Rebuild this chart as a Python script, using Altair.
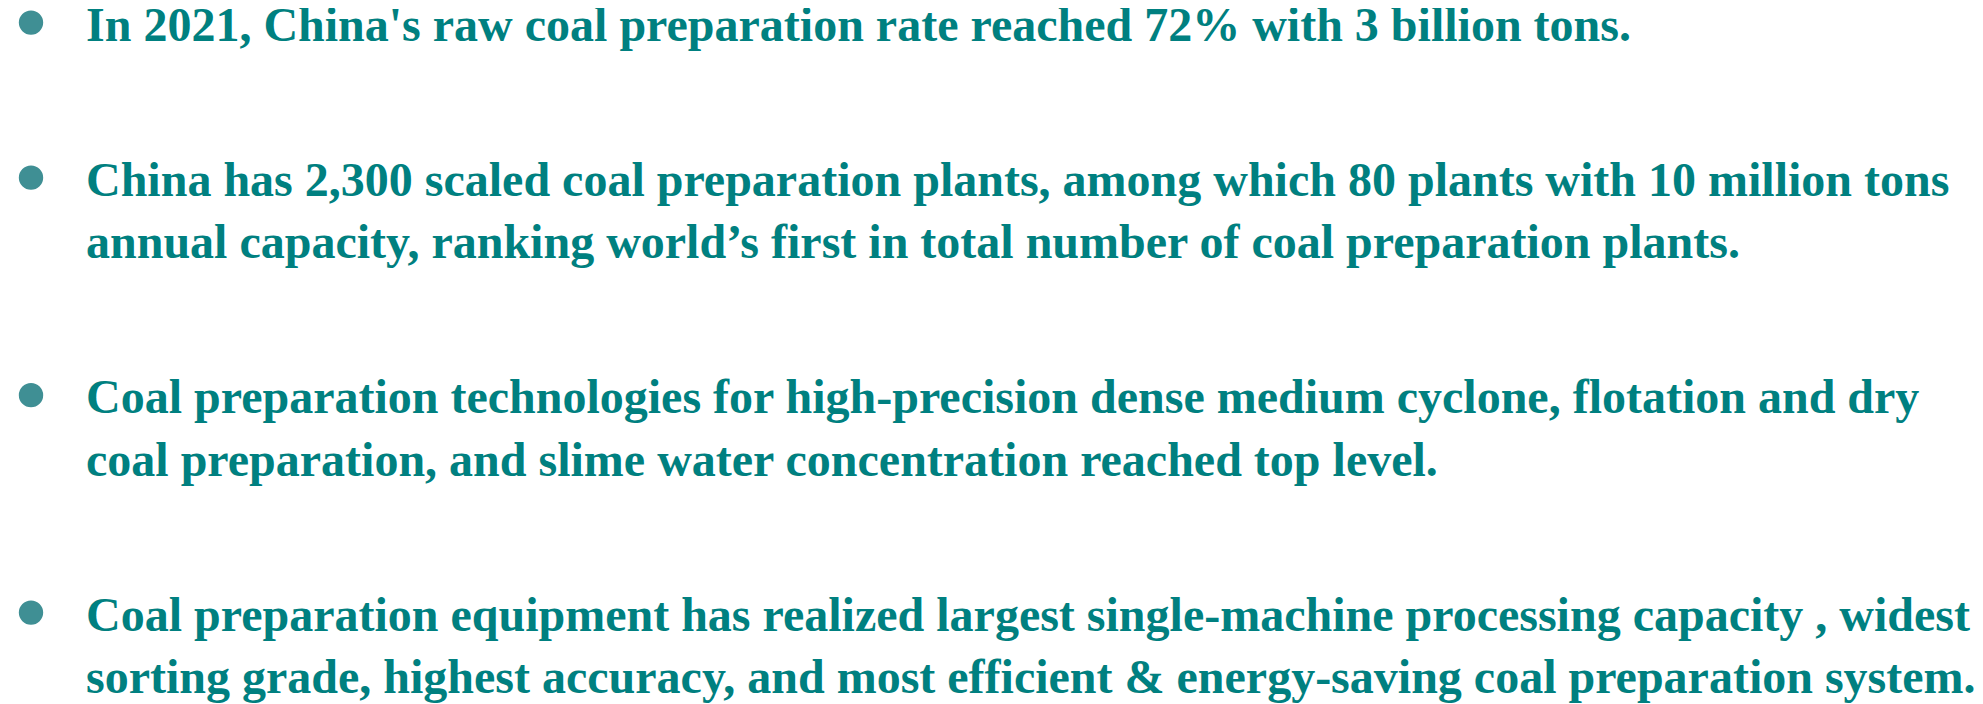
import altair as alt
import pandas as pd

# Bullet items, each as its wrapped lines
item_1 = ["In 2021, China's raw coal preparation rate reached 72% with 3 billion tons."]
item_2 = ["China has 2,300 scaled coal preparation plants, among which 80 plants with 10 million tons",
          "annual capacity, ranking world\u2019s first in total number of coal preparation plants."]
item_3 = ["Coal preparation technologies for high-precision dense medium cyclone, flotation and dry",
          "coal preparation, and slime water concentration reached top level."]
item_4 = ["Coal preparation equipment has realized largest single-machine processing capacity , widest",
          "sorting grade, highest accuracy, and most efficient & energy-saving coal preparation system."]
items = [item_1, item_2, item_3, item_4]

PARA_GAP = 1.485  # extra line units between paragraphs

rows = []
bullets = []
g = 0
for i, lines in enumerate(items):
    for j, t in enumerate(lines):
        slot = g + i * PARA_GAP
        rows.append({"item": i, "line": j, "slot": slot, "text": t, "col": 1})
        if j == 0:
            bullets.append({"item": i, "slot": slot, "col": 0})
        g += 1

lines_df = pd.DataFrame(rows)
bullets_df = pd.DataFrame(bullets)

W, H = 1967, 696
LINE_PX = 62.4
TOP_BASE = 32.6
y_scale = alt.Scale(domain=[-TOP_BASE / LINE_PX, (H - TOP_BASE) / LINE_PX], reverse=True, nice=False, zero=False)
x_scale = alt.Scale(domain=[0, 1], range=[23, 78], nice=False, zero=False)

text_layer = alt.Chart(lines_df).mark_text(
    align="left", baseline="alphabetic", font="Liberation Serif", fontWeight="bold",
    fontSize=48, color="#008080"
).encode(
    x=alt.X("col:Q", scale=x_scale, axis=None),
    y=alt.Y("slot:Q", scale=y_scale, axis=None),
    text="text:N",
)

bullet_layer = alt.Chart(bullets_df).mark_circle(
    size=594, color="#3f8f94", opacity=1, yOffset=-18
).encode(
    x=alt.X("col:Q", scale=x_scale, axis=None),
    y=alt.Y("slot:Q", scale=y_scale, axis=None),
)

chart = alt.layer(bullet_layer, text_layer).properties(
    width=W, height=H, padding=0, background="white",
    autosize=alt.AutoSizeParams(type="none")
).configure_view(stroke=None, strokeWidth=0)

chart.save("out.html", embed_options={"renderer": "svg", "actions": False})
